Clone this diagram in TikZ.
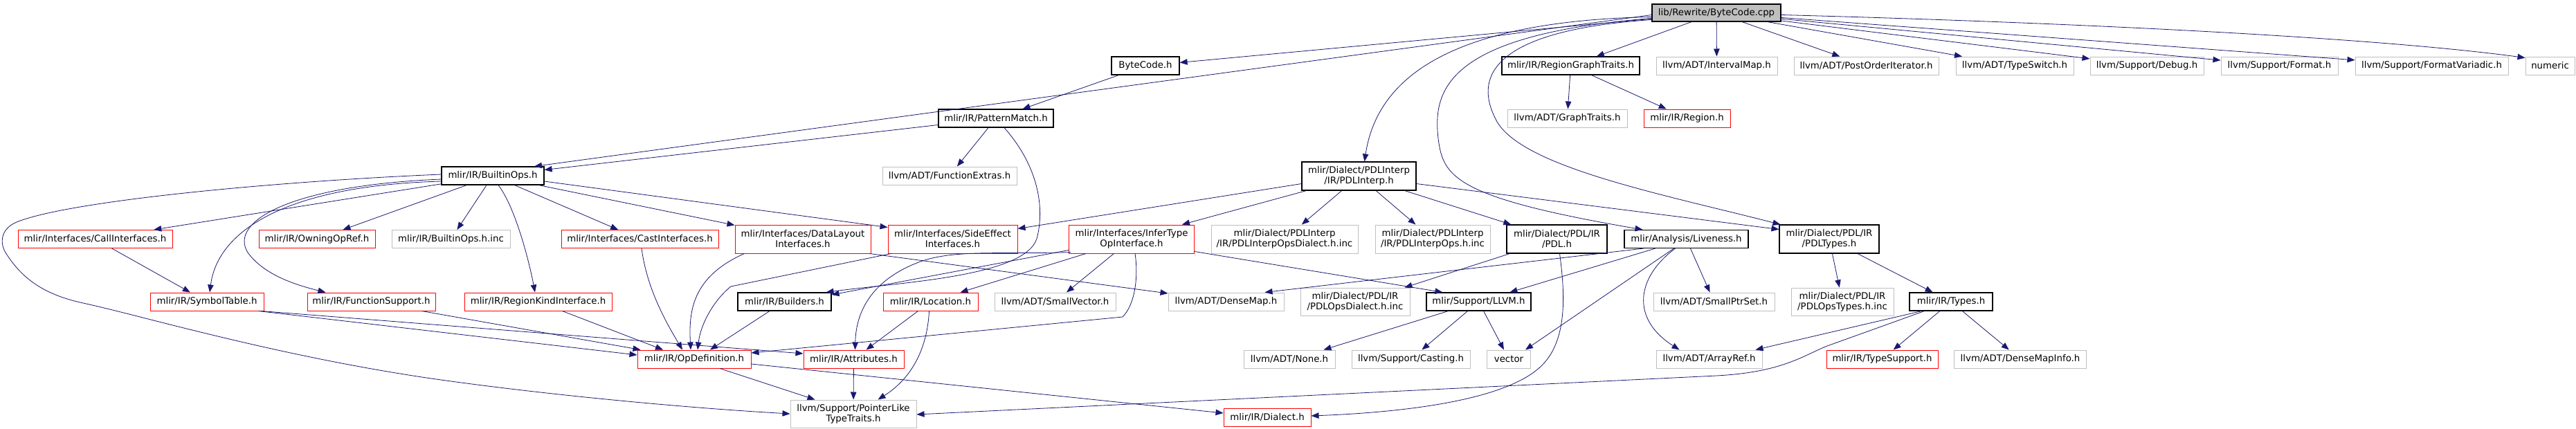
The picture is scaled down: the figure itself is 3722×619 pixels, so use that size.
\documentclass[tikz,border=0pt]{standalone}
\usepackage{fontspec}
\setmainfont{DejaVu Sans}
\usetikzlibrary{calc,arrows.meta}
\definecolor{edgec}{HTML}{191970}
\definecolor{dred}{HTML}{FF0000}
\definecolor{dgray}{HTML}{BFBFBF}
\definecolor{rootfill}{HTML}{BFBFBF}
\begin{document}
\begin{tikzpicture}[x=1pt,y=-1pt,
  box/.style={rectangle, inner sep=0pt, line width=1.0pt, minimum height=26pt,
    font=\fontsize{13.33}{15}\selectfont, align=center, text=black},
  bbox/.style={box, draw=black, line width=1.1pt},
  rbox/.style={box, draw=dred},
  gbox/.style={box, draw=dgray},
  twoline/.style={minimum height=41pt},
  e/.style={draw=edgec, line width=0.8pt, -{Triangle[length=11pt,width=8.5pt]}}]
\useasboundingbox (0,0) rectangle (3722,619);

% ---- nodes ----
\node[bbox, fill=rootfill, minimum width=186pt, minimum height=25pt] (cpp) at (2480,18.5) {lib/Rewrite/ByteCode.cpp};
\node[bbox, minimum width=98pt] (bch) at (1655,95) {ByteCode.h};
\node[bbox, minimum width=166pt] (pm) at (1439,171) {mlir/IR/PatternMatch.h};
\node[bbox, minimum width=199pt] (rgt) at (2269.5,95) {mlir/IR/RegionGraphTraits.h};
\node[gbox, minimum width=175pt] (imap) at (2480.5,95) {llvm/ADT/IntervalMap.h};
\node[gbox, minimum width=209pt] (poi) at (2696.5,95) {llvm/ADT/PostOrderIterator.h};
\node[gbox, minimum width=170pt] (tsw) at (2911,95) {llvm/ADT/TypeSwitch.h};
\node[gbox, minimum width=164pt] (dbg) at (3102,95) {llvm/Support/Debug.h};
\node[gbox, minimum width=169pt] (fmt) at (3293.5,95) {llvm/Support/Format.h};
\node[gbox, minimum width=221pt] (fmtv) at (3513.5,95) {llvm/Support/FormatVariadic.h};
\node[gbox, minimum width=71pt] (num) at (3684.5,95) {numeric};
\node[gbox, minimum width=173pt] (gtr) at (2264.5,171) {llvm/ADT/GraphTraits.h};
\node[rbox, minimum width=125pt] (reg) at (2437.5,171) {mlir/IR/Region.h};
\node[gbox, minimum width=194pt] (fex) at (1372,254) {llvm/ADT/FunctionExtras.h};
\node[bbox, minimum width=148pt] (bops) at (712,254) {mlir/IR/BuiltinOps.h};
\node[bbox, twoline, minimum width=165pt] (pdli) at (1963.5,254.5) {mlir/Dialect/PDLInterp\\/IR/PDLInterp.h};
\node[rbox, minimum width=223pt] (call) at (137.5,345.5) {mlir/Interfaces/CallInterfaces.h};
\node[rbox, minimum width=168pt] (oor) at (458,345.5) {mlir/IR/OwningOpRef.h};
\node[gbox, minimum width=171pt] (binc) at (651.5,345.5) {mlir/IR/BuiltinOps.h.inc};
\node[rbox, minimum width=227pt] (cast) at (924.5,345.5) {mlir/Interfaces/CastInterfaces.h};
\node[rbox, twoline, minimum width=196pt] (dl) at (1160,345.5) {mlir/Interfaces/DataLayout\\Interfaces.h};
\node[rbox, twoline, minimum width=187pt] (se) at (1376.5,345.5) {mlir/Interfaces/SideEffect\\Interfaces.h};
\node[rbox, twoline, minimum width=181pt] (inf) at (1635,345.5) {mlir/Interfaces/InferType\\OpInterface.h};
\node[gbox, twoline, minimum width=212pt] (pdlid) at (1856,345.5) {mlir/Dialect/PDLInterp\\/IR/PDLInterpOpsDialect.h.inc};
\node[gbox, twoline, minimum width=166pt] (pdlio) at (2070,345.5) {mlir/Dialect/PDLInterp\\/IR/PDLInterpOps.h.inc};
\node[bbox, twoline, minimum width=145pt] (pdl) at (2249.5,345.5) {mlir/Dialect/PDL/IR\\/PDL.h};
\node[bbox, minimum width=179pt] (live) at (2436.5,345.5) {mlir/Analysis/Liveness.h};
\node[bbox, twoline, minimum width=144pt] (pdlt) at (2643,345.5) {mlir/Dialect/PDL/IR\\/PDLTypes.h};
\node[rbox, minimum width=164pt] (sym) at (299,436) {mlir/IR/SymbolTable.h};
\node[rbox, minimum width=185pt] (fsup) at (536.5,436) {mlir/IR/FunctionSupport.h};
\node[rbox, minimum width=213pt] (rki) at (777.5,436) {mlir/IR/RegionKindInterface.h};
\node[bbox, minimum width=135pt] (bld) at (1133.5,436) {mlir/IR/Builders.h};
\node[rbox, minimum width=137pt] (loc) at (1344.5,436) {mlir/IR/Location.h};
\node[gbox, minimum width=175pt] (svec) at (1524.5,436) {llvm/ADT/SmallVector.h};
\node[gbox, minimum width=167pt] (dmap) at (1771.5,436) {llvm/ADT/DenseMap.h};
\node[gbox, minimum width=158pt, minimum height=40pt] (pdlod) at (1958,436) {mlir/Dialect/PDL/IR\\/PDLOpsDialect.h.inc};
\node[bbox, minimum width=151pt] (llvm) at (2136.5,436) {mlir/Support/LLVM.h};
\node[gbox, minimum width=175pt] (sps) at (2476.5,436) {llvm/ADT/SmallPtrSet.h};
\node[gbox, minimum width=148pt, minimum height=40pt] (pdlot) at (2662,436) {mlir/Dialect/PDL/IR\\/PDLOpsTypes.h.inc};
\node[bbox, minimum width=120pt] (types) at (2819,436) {mlir/IR/Types.h};
\node[rbox, minimum width=164pt] (opd) at (1003,519) {mlir/IR/OpDefinition.h};
\node[rbox, minimum width=145pt] (attr) at (1233.5,519) {mlir/IR/Attributes.h};
\node[gbox, minimum width=132pt] (none) at (1863,519) {llvm/ADT/None.h};
\node[gbox, minimum width=171pt] (cast2) at (2038.5,519) {llvm/Support/Casting.h};
\node[gbox, minimum width=63pt] (vec) at (2180,519) {vector};
\node[gbox, minimum width=153pt] (aref) at (2469.5,519) {llvm/ADT/ArrayRef.h};
\node[rbox, minimum width=161pt] (tsup) at (2719.5,519) {mlir/IR/TypeSupport.h};
\node[gbox, minimum width=191pt] (dmi) at (2919,519) {llvm/ADT/DenseMapInfo.h};
\node[gbox, minimum width=182pt, minimum height=40pt] (plt) at (1233,598) {llvm/Support/PointerLike\\TypeTraits.h};
\node[rbox, minimum width=126pt] (dial) at (1831,603) {mlir/IR/Dialect.h};

% ---- edges from ByteCode.cpp ----
\draw[e] (cpp) -- (bch);
\draw[e] ($(cpp.west)+(0,3)$) -- ($(bops.north)+(60,0)$);
\draw[e] ($(cpp.west)+(0,6)$) .. controls (2100,30) and (1990,110) .. ($(pdli.north)+(8,0)$);
\draw[e] ($(cpp.west)+(0,8)$) .. controls (2090,50) and (2070,130) .. (2078,200)
   .. controls (2085,255) and (2100,285) .. ($(live.north west)+(27,0)$);
\draw[e] ($(cpp.west)+(0,10)$) .. controls (2140,45) and (2135,120) .. (2160,170)
   .. controls (2190,240) and (2400,280) .. ($(pdlt.north west)+(2,0)$);
\draw[e] (cpp) -- (rgt);
\draw[e] (cpp) -- (imap);
\draw[e] (cpp) -- (poi);
\draw[e] (cpp) -- (tsw);
\draw[e] (cpp) -- (dbg);
\draw[e] (cpp) -- (fmt);
\draw[e] (cpp) -- (fmtv);
\draw[e] ($(cpp.east)+(0,3)$) .. controls (2900,30) and (3400,50) .. ($(num.north west)+(0,2)$);

% ---- upper part ----
\draw[e] (bch) -- (pm);
\draw[e] (pm) -- (bops);
\draw[e] (pm) -- (fex);
\draw[e] ($(pm.south)+(12,0)$) .. controls (1500,240) and (1510,300) .. (1498,345)
   .. controls (1480,400) and (1300,408) .. ($(bld.north east)+(-8,0)$);
\draw[e] (rgt) -- (gtr);
\draw[e] (rgt) -- (reg);

% ---- BuiltinOps.h ----
\draw[e] (bops) -- (call);
\draw[e] (bops) -- (oor);
\draw[e] (bops) -- (binc);
\draw[e] ($(bops.west)+(0,8)$) .. controls (420,268) and (315,330) .. ($(sym.north)+(4,0)$);
\draw[e] ($(bops.west)+(0,5)$) .. controls (420,268) and (330,320) .. (358,365)
   .. controls (380,395) and (420,410) .. ($(fsup.north)+(-66,0)$);
\draw[e] ($(bops.west)+(0,-2)$) .. controls (400,262) and (100,290) .. (24,321)
   .. controls (0,331) and (0,352) .. (8,365)
   .. controls (30,400) and (60,425) .. (120,438)
   .. controls (200,455) and (400,515) .. (630,548)
   .. controls (800,572) and (1000,590) .. (plt.west);
\draw[e] ($(bops.south)+(8,0)$) .. controls (745,300) and (765,380) .. ($(rki.north)+(-4.5,0)$);
\draw[e] (bops) -- (cast);
\draw[e] (bops) -- (dl);
\draw[e] ($(bops.east)+(0,8)$) -- ($(se.west)+(0,-17)$);

% ---- PDLInterp.h ----
\draw[e] ($(pdli.west)+(0,11)$) -- ($(se.east)+(0,-15)$);
\draw[e] ($(pdli.south west)+(7,0)$) -- ($(inf.north east)+(-18,0)$);
\draw[e] (pdli) -- (pdlid);
\draw[e] (pdli) -- (pdlio);
\draw[e] (pdli) -- (pdl);
\draw[e] ($(pdli.east)+(0,11)$) -- ($(pdlt.west)+(0,-14)$);

% ---- middle rows ----
\draw[e] (call) -- (sym);
\draw[e] ($(sym.south east)+(-8,0)$) -- ($(opd.west)+(0,-6)$);
\draw[e] ($(sym.south east)+(-4,0)$) -- ($(attr.west)+(0,-8)$);
\draw[e] ($(fsup.south east)+(-20,0)$) -- ($(opd.north west)+(5,0)$);
\draw[e] ($(rki.south)+(35,0)$) -- ($(opd.north)+(-45,0)$);
\draw[e] ($(cast.south)+(2.5,0)$) .. controls (935,420) and (965,470) .. ($(opd.north)+(-17,0)$);
\draw[e] ($(dl.south west)+(14,0)$) .. controls (1000,400) and (995,450) .. ($(opd.north)+(-5,0)$);
\draw[e] ($(dl.south east)+(-2,0)$) -- ($(dmap.west)+(0,-12)$);
\draw[e] ($(se.south west)+(5,0)$) -- (1056,414) .. controls (1030,435) and (1012,470) .. ($(opd.north)+(5,0)$);
\draw[e] ($(inf.south west)+(0,-5)$) -- ($(bld.east)+(0,-10)$);
\draw[e] ($(inf.south west)+(3,-2)$) .. controls (1450,368) and (1380,360) .. (1330,378)
   .. controls (1270,400) and (1237,440) .. ($(attr.north)+(2,0)$);
\draw[e] ($(inf.south west)+(25,0)$) -- ($(loc.north east)+(-26,0)$);
\draw[e] (inf) -- (svec);
\draw[e] ($(inf.south)+(5,0)$) .. controls (1645,400) and (1640,440) .. (1622,458) -- ($(opd.east)+(0,-9)$);
\draw[e] ($(inf.east)+(0,18)$) -- ($(llvm.north west)+(24,0)$);
\draw[e] ($(pdl.south west)+(5,0)$) -- ($(pdlod.north east)+(-8,0)$);
\draw[e] ($(pdl.south)+(4,0)$) .. controls (2262,430) and (2265,500) .. (2220,535)
   .. controls (2170,575) and (2050,595) .. ($(dial.east)+(0,-2)$);
\draw[e] ($(live.south west)+(28,0)$) -- ($(dmap.north east)+(-28,0)$);
\draw[e] (live) -- (llvm);
\draw[e] ($(live.south)+(-18,0)$) -- ($(vec.north east)+(-8,0)$);
\draw[e] (live) -- (sps);
\draw[e] ($(live.south)+(-16,0)$) .. controls (2365,400) and (2355,460) .. ($(aref.north)+(-43,0)$);
\draw[e] (pdlt) -- (pdlot);
\draw[e] (pdlt) -- (types);

% ---- lower rows ----
\draw[e] ($(bld.south)+(-21.5,0)$) -- ($(opd.north)+(23,0)$);
\draw[e] (loc) -- (attr);
\draw[e] ($(loc.south)+(-2,0)$) .. controls (1340,500) and (1320,545) .. ($(plt.north east)+(-56,0)$);
\draw[e] ($(llvm.south west)+(32,0)$) -- ($(none.north east)+(-17,0)$);
\draw[e] (llvm) -- (cast2);
\draw[e] (llvm) -- (vec);
\draw[e] ($(types.south west)+(18,0)$) -- ($(aref.north east)+(-10,0)$);
\draw[e] ($(types.south west)+(22,0)$) -- (2640,500) .. controls (2605,514) and (2575,538) .. (2480,543) -- ($(plt.east)+(0,1)$);
\draw[e] (types) -- (tsup);
\draw[e] (types) -- (dmi);
\draw[e] ($(opd.south)+(37,0)$) -- ($(plt.north west)+(36,0)$);
\draw[e] ($(opd.east)+(0,7)$) -- ($(dial.west)+(0,-6)$);
\draw[e] (attr) -- (plt);
\end{tikzpicture}
\end{document}
